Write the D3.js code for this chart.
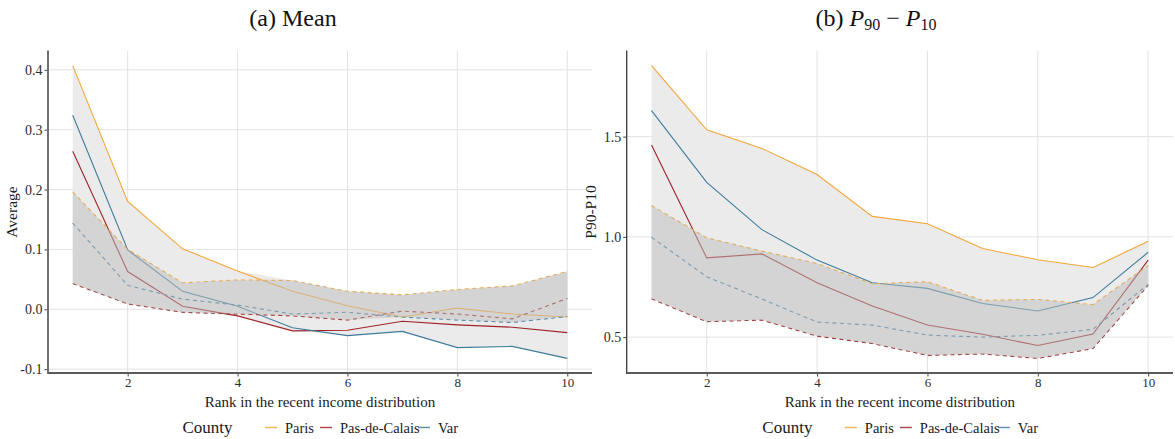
<!DOCTYPE html>
<html>
<head>
<meta charset="utf-8">
<script src="https://cdn.jsdelivr.net/npm/d3@7/dist/d3.min.js"></script>
<style>
  html, body { margin: 0; padding: 0; background: #fff; }
  svg { display: block; }
  text { font-family: "Liberation Serif", "DejaVu Serif", serif; }
</style>
</head>
<body>
<svg id="chart" width="1175" height="439"></svg>
<script>
// Rank (decile) in the recent income distribution
const ranks = [1, 2, 3, 4, 5, 6, 7, 8, 9, 10];

const counties = ["Paris", "Pas-de-Calais", "Var"];
const countyColors = ["#F4A637", "#9E2428", "#3E7B9C"];

// Panel (a): mean — observed (solid) and baseline (dashed)
const meanParis        = [0.407, 0.180, 0.101, 0.064, 0.030, 0.006, -0.013, 0.002, -0.008, -0.013];
const meanPasDeCalais  = [0.264, 0.063, 0.005, -0.011, -0.036, -0.035, -0.020, -0.026, -0.030, -0.039];
const meanVar          = [0.324, 0.099, 0.030, 0.005, -0.031, -0.044, -0.037, -0.064, -0.062, -0.082];
const meanParisBase       = [0.196, 0.100, 0.044, 0.049, 0.048, 0.030, 0.024, 0.033, 0.039, 0.063];
const meanPasDeCalaisBase = [0.043, 0.009, -0.005, -0.008, -0.011, -0.018, -0.003, -0.008, -0.016, 0.018];
const meanVarBase         = [0.144, 0.040, 0.017, 0.007, -0.008, -0.005, -0.013, -0.018, -0.022, -0.012];

// Panel (b): P90 - P10 — observed (solid) and baseline (dashed)
const gapParis        = [1.854, 1.534, 1.441, 1.311, 1.102, 1.065, 0.942, 0.886, 0.847, 0.978];
const gapPasDeCalais  = [1.458, 0.895, 0.915, 0.771, 0.655, 0.560, 0.514, 0.458, 0.515, 0.884];
const gapVar          = [1.630, 1.272, 1.036, 0.884, 0.771, 0.743, 0.668, 0.630, 0.697, 0.923];
const gapParisBase       = [1.156, 0.995, 0.929, 0.867, 0.766, 0.776, 0.683, 0.688, 0.662, 0.857];
const gapPasDeCalaisBase = [0.691, 0.577, 0.585, 0.505, 0.468, 0.409, 0.416, 0.394, 0.443, 0.758];
const gapVarBase         = [0.998, 0.801, 0.690, 0.575, 0.560, 0.510, 0.500, 0.509, 0.539, 0.763];

const xTicks = [2, 4, 6, 8, 10];
const meanTicks = [-0.1, 0.0, 0.1, 0.2, 0.3, 0.4];
const gapTicks = [0.5, 1.0, 1.5];

const svg = d3.select("#chart");

function expandDomain(lo, hi, f) {
  const pad = (hi - lo) * f;
  return [lo - pad, hi + pad];
}

function drawPanel(opt) {
  const g = svg.append("g");
  const solid = opt.solid, dashed = opt.dashed;
  const all = solid.concat(dashed);

  const x = d3.scaleLinear()
    .domain(expandDomain(d3.min(ranks), d3.max(ranks), 0.05))
    .range([opt.left, opt.right]);
  const yLo = d3.min(all, s => d3.min(s));
  const yHi = d3.max(all, s => d3.max(s));
  const y = d3.scaleLinear()
    .domain(expandDomain(yLo, yHi, 0.05))
    .range([opt.bottom, opt.top]);

  // grid
  g.append("g").selectAll("line.h").data(opt.yTicks).join("line")
    .attr("x1", opt.left).attr("x2", opt.right)
    .attr("y1", d => y(d)).attr("y2", d => y(d))
    .attr("stroke", "#e2e2e2").attr("stroke-width", 1);
  g.append("g").selectAll("line.v").data(xTicks).join("line")
    .attr("x1", d => x(d)).attr("x2", d => x(d))
    .attr("y1", opt.top).attr("y2", opt.bottom)
    .attr("stroke", "#e2e2e2").attr("stroke-width", 1);

  // envelope of all six curves, and of the three baseline curves
  const envAll = ranks.map((r, i) => ({
    r, lo: d3.min(all, s => s[i]), hi: d3.max(all, s => s[i])
  }));
  const envBase = ranks.map((r, i) => ({
    r, lo: d3.min(dashed, s => s[i]), hi: d3.max(dashed, s => s[i])
  }));
  const area = d3.area().x(d => x(d.r)).y0(d => y(d.lo)).y1(d => y(d.hi));

  g.append("path").datum(envAll).attr("d", area)
    .attr("fill", "#ebebeb");

  const line = d3.line().x((d, i) => x(ranks[i])).y(d => y(d));

  solid.forEach((s, k) => {
    g.append("path").datum(s).attr("d", line)
      .attr("fill", "none").attr("stroke", countyColors[k])
      .attr("stroke-width", 1.1);
  });
  dashed.forEach((s, k) => {
    g.append("path").datum(s).attr("d", line)
      .attr("fill", "none").attr("stroke", countyColors[k])
      .attr("stroke-width", 1.1).attr("stroke-dasharray", "4,3.5");
  });

  g.append("path").datum(envBase).attr("d", area)
    .attr("fill", "#bdbdbd").attr("fill-opacity", 0.5);

  // axes
  const fmt = d => d3.format(".1f")(d).replace("\u2212", "-");
  const yAxis = g.append("g").attr("transform", `translate(${opt.left},0)`)
    .call(d3.axisLeft(y).tickValues(opt.yTicks).tickFormat(fmt).tickSize(3.5).tickPadding(2));
  const xAxis = g.append("g").attr("transform", `translate(0,${opt.bottom})`)
    .call(d3.axisBottom(x).tickValues(xTicks).tickFormat(d3.format("d")).tickSize(3.5).tickPadding(1.5));
  [yAxis, xAxis].forEach(a => {
    a.select(".domain").remove();
    a.selectAll(".tick line").attr("stroke", "#444");
    a.selectAll(".tick text")
      .attr("fill", "#2b2b2b")
      .style("font-family", '"Liberation Serif", serif');
  });
  yAxis.selectAll(".tick text").style("font-size", "14px");
  xAxis.selectAll(".tick text").style("font-size", "13px");

  g.append("line").attr("x1", opt.left).attr("x2", opt.left)
    .attr("y1", opt.top - 0.5).attr("y2", opt.bottom + 1)
    .attr("stroke", opt.axisColor).attr("stroke-width", opt.axisWidth);
  g.append("line").attr("x1", opt.left).attr("x2", opt.right)
    .attr("y1", opt.bottom).attr("y2", opt.bottom)
    .attr("stroke", "#5a5a5a").attr("stroke-width", 1.8);

  // axis titles
  const cx = (opt.left + opt.right) / 2;
  g.append("text").attr("x", cx).attr("y", 406.5)
    .attr("text-anchor", "middle").attr("fill", "#1a1a1a")
    .style("font-size", "15px").text("Rank in the recent income distribution");
  g.append("text")
    .attr("transform", `translate(${opt.yLabelX},${(opt.top + opt.bottom) / 2}) rotate(-90)`)
    .attr("text-anchor", "middle").attr("fill", "#1a1a1a")
    .style("font-size", "15.5px").text(opt.yLabel);

  // legend
  const lx = cx - 137.5;
  const leg = g.append("g");
  leg.append("text").attr("x", lx).attr("y", 433)
    .attr("fill", "#1a1a1a").style("font-size", "17px").text("County");
  const keyOffsets = [82.5, 137.5, 235.5];
  counties.forEach((c, k) => {
    const kx = lx + keyOffsets[k];
    leg.append("line").attr("x1", kx).attr("x2", kx + 12)
      .attr("y1", 427.5).attr("y2", 427.5)
      .attr("stroke", countyColors[k]).attr("stroke-width", 1.4).attr("stroke-opacity", 0.85);
    leg.append("text").attr("x", kx + 20).attr("y", 433)
      .attr("fill", "#1a1a1a").style("font-size", "14.5px").text(c);
  });

  // panel title
  const t = g.append("text").attr("x", opt.titleX).attr("y", 26)
    .attr("text-anchor", "middle").attr("fill", "#111").style("font-size", "24px");
  opt.title(t);
}

drawPanel({
  left: 48, right: 592, top: 51, bottom: 373,
  solid: [meanParis, meanPasDeCalais, meanVar],
  dashed: [meanParisBase, meanPasDeCalaisBase, meanVarBase],
  yTicks: meanTicks, yLabel: "Average", yLabelX: 17,
  axisColor: "#707070", axisWidth: 2,
  titleX: 293,
  title: t => t.text("(a) Mean")
});

drawPanel({
  left: 626.7, right: 1173, top: 51, bottom: 373,
  solid: [gapParis, gapPasDeCalais, gapVar],
  dashed: [gapParisBase, gapPasDeCalaisBase, gapVarBase],
  yTicks: gapTicks, yLabel: "P90-P10", yLabelX: 596,
  axisColor: "#3a3a3a", axisWidth: 1.3,
  titleX: 876,
  title: t => {
    t.append("tspan").text("(b) ");
    t.append("tspan").style("font-style", "italic").text("P");
    t.append("tspan").attr("dy", 4).style("font-size", "16px").text("90");
    t.append("tspan").attr("dy", -4).text(" \u2212 ");
    t.append("tspan").style("font-style", "italic").text("P");
    t.append("tspan").attr("dy", 4).style("font-size", "16px").text("10");
  }
});
</script>
</body>
</html>
